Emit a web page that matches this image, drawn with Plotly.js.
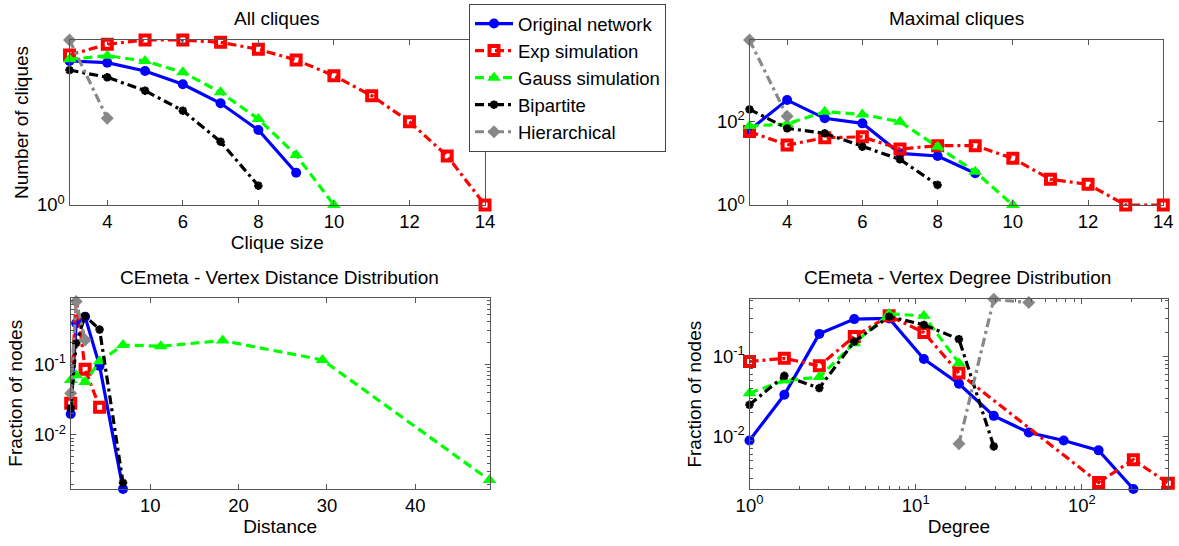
<!DOCTYPE html>
<html><head><meta charset="utf-8">
<script src="https://cdn.plot.ly/plotly-3.0.1.min.js"></script>
<style>html,body{margin:0;padding:0;background:#fff}#chart{width:1179px;height:546px}</style>
</head><body><div id="chart"></div>
<script>
// ---------- data ----------
const seriesNames = ['Original network', 'Exp simulation', 'Gauss simulation', 'Bipartite', 'Hierarchical'];

// All cliques (x = clique size)
const allX_original = [3, 4, 5, 6, 7, 8, 9];
const allY_original = [23100, 20500, 11500, 4540, 1210, 187, 9.5];
const allX_exp = [3, 4, 5, 6, 7, 8, 9, 10, 11, 12, 13, 14];
const allY_exp = [35100, 74100, 100000, 100000, 85100, 52200, 24800, 8280, 2050, 334, 30.5, 1];
const allX_gauss = [3, 4, 5, 6, 7, 8, 9, 10];
const allY_gauss = [26000, 33400, 23100, 10500, 2600, 404, 32.7, 1];
const allX_bip = [3, 4, 5, 6, 7, 8];
const allY_bip = [12300, 7400, 2910, 721, 82.8, 3.85];
const allX_hier = [3, 4];
const allY_hier = [100000, 424];

// Maximal cliques
const maxX_original = [3, 4, 5, 6, 7, 8, 9];
const maxY_original = [61, 316, 116, 88, 17, 14.7, 5.7];
const maxX_exp = [3, 4, 5, 6, 7, 8, 9, 10, 11, 12, 13, 14];
const maxY_exp = [56, 26.8, 40, 42, 21.5, 25.9, 25.9, 12.9, 4.1, 3.1, 1, 1];
const maxX_gauss = [3, 4, 5, 6, 7, 8, 9, 10];
const maxY_gauss = [76, 85, 167, 144, 96, 24.5, 6.2, 1];
const maxX_bip = [3, 4, 5, 6, 7, 8];
const maxY_bip = [190, 67, 51, 24.5, 12.2, 3];
const maxX_hier = [3, 4];
const maxY_hier = [8500, 130];

// Vertex distance distribution
const distX_original = [1, 1.62, 2.63, 4.27, 6.92];
const distY_original = [0.0198, 0.38, 0.47, 0.095, 0.00172];
const distX_exp = [1, 1.62, 2.63, 4.27];
const distY_exp = [0.028, 0.88, 0.085, 0.0247];
const distX_gauss = [1, 1.62, 2.63, 4.27, 6.92, 11.2, 18.2, 29.5, 48.4];
const distY_gauss = [0.06, 0.07, 0.056, 0.11, 0.187, 0.18, 0.216, 0.115, 0.0023];
const distX_bip = [1, 1.62, 2.63, 4.27, 6.92];
const distY_bip = [0.024, 0.2, 0.48, 0.31, 0.0021];
const distX_hier = [1, 1.62, 2.63];
const distY_hier = [0.039, 0.77, 0.22];

// Vertex degree distribution
const degX_original = [1, 1.62, 2.63, 4.27, 6.92, 11.2, 18.2, 29.5, 47.9, 77.7, 126, 204];
const degY_original = [0.0089, 0.0332, 0.192, 0.294, 0.30, 0.093, 0.0456, 0.0181, 0.0112, 0.0089, 0.0067, 0.0022];
const degX_exp = [1, 1.62, 2.63, 4.27, 6.92, 11.2, 18.2, 126, 204, 331];
const degY_exp = [0.0866, 0.095, 0.0765, 0.178, 0.323, 0.2, 0.062, 0.00266, 0.00511, 0.0026];
const degX_gauss = [1, 1.62, 2.63, 4.27, 6.92, 11.2, 18.2];
const degY_gauss = [0.0348, 0.050, 0.0553, 0.147, 0.342, 0.323, 0.0826];
const degX_bip = [1, 1.62, 2.63, 4.27, 6.92, 11.2, 18.2, 29.5];
const degY_bip = [0.0249, 0.0574, 0.0403, 0.154, 0.316, 0.249, 0.165, 0.0075];
const degX_hier = [18.2, 29.5, 47.9];
const degY_hier = [0.0081, 0.52, 0.473];

const titles = ['All cliques', 'Maximal cliques', 'CEmeta - Vertex Distance Distribution', 'CEmeta - Vertex Degree Distribution'];

// ---------- styles ----------
const FONT = 'Liberation Sans, Arial, Helvetica, sans-serif';
const TF = 19; // text size
const styles = [
  {color: '#0000ff', dash: 'solid', symbol: 'circle', size: 10, mlw: 0},
  {color: '#ff0000', dash: '9px,4px,3px,4px', symbol: 'square-open', size: 9, mlw: 4},
  {color: '#00ff00', dash: '9px,5px', symbol: 'triangle-up', size: 12, mlw: 0},
  {color: '#000000', dash: '9px,4px,3px,4px', symbol: 'asterisk-open', size: 7, mlw: 2.5},
  {color: '#888888', dash: '9px,4px,3px,4px', symbol: 'diamond', size: 10, mlw: 0}
];

const panels = [
  {xs: [allX_original, allX_exp, allX_gauss, allX_bip, allX_hier], ys: [allY_original, allY_exp, allY_gauss, allY_bip, allY_hier]},
  {xs: [maxX_original, maxX_exp, maxX_gauss, maxX_bip, maxX_hier], ys: [maxY_original, maxY_exp, maxY_gauss, maxY_bip, maxY_hier]},
  {xs: [distX_original, distX_exp, distX_gauss, distX_bip, distX_hier], ys: [distY_original, distY_exp, distY_gauss, distY_bip, distY_hier]},
  {xs: [degX_original, degX_exp, degX_gauss, degX_bip, degX_hier], ys: [degY_original, degY_exp, degY_gauss, degY_bip, degY_hier]}
];

const traces = [];
panels.forEach((p, pi) => {
  const ax = pi === 0 ? '' : String(pi + 1);
  for (let s = 0; s < 5; s++) {
    const st = styles[s];
    traces.push({
      type: 'scatter', mode: 'lines+markers',
      x: p.xs[s], y: p.ys[s],
      xaxis: 'x' + ax, yaxis: 'y' + ax,
      name: seriesNames[s], legendgroup: seriesNames[s], showlegend: pi === 0,
      line: {color: st.color, width: 3.2, dash: st.dash},
      marker: {symbol: st.symbol, size: st.size, color: st.color, line: {color: st.color, width: st.mlw}},
      cliponaxis: false
    });
  }
});

const W = 1179, H = 546;
const px = v => v / W;
const py = v => 1 - v / H;
const tfont = {family: FONT, size: TF, color: '#000'};

function baseAxis(extra) {
  return Object.assign({
    showline: true, linecolor: '#555', linewidth: 1, mirror: 'ticks',
    ticks: 'inside', ticklen: 5, tickcolor: '#555', tickwidth: 1,
    showgrid: false, zeroline: false,
    tickfont: {family: FONT, size: 18.5, color: '#000'}
  }, extra);
}

const minorDist = [0.002,0.003,0.004,0.005,0.006,0.007,0.008,0.009,0.02,0.03,0.04,0.05,0.06,0.07,0.08,0.09,0.2,0.3,0.4,0.5,0.6,0.7,0.8];
const minorDegX = [2,3,4,5,6,7,8,9,20,30,40,50,60,70,80,90,200,300];

const layout = {
  width: W, height: H,
  margin: {l: 0, r: 0, t: 0, b: 0},
  paper_bgcolor: '#fff', plot_bgcolor: '#fff',
  font: {family: FONT, size: TF, color: '#000'},
  showlegend: true,
  legend: {
    x: px(469), y: py(4), xanchor: 'left', yanchor: 'top',
    bgcolor: '#fff', bordercolor: '#444', borderwidth: 1,
    font: {family: FONT, size: 18.5, color: '#000'},
    itemwidth: 38, tracegroupgap: 0
  },
  xaxis: baseAxis({domain: [px(69.5), px(485)], range: [3, 14], tickvals: [4, 6, 8, 10, 12, 14],
    title: {text: 'Clique size', font: tfont, standoff: 3}}),
  yaxis: baseAxis({domain: [py(205), py(40)], type: 'log', range: [0, 5], tickvals: [1], ticktext: ['10<sup>0</sup>'],
    title: {text: 'Number of cliques', font: tfont, standoff: 3}}),
  xaxis2: baseAxis({domain: [px(749.5), px(1163.3)], range: [3, 14], tickvals: [4, 6, 8, 10, 12, 14], anchor: 'y2'}),
  yaxis2: baseAxis({domain: [py(205), py(40)], type: 'log', range: [0, 3.93], tickvals: [1, 100], ticktext: ['10<sup>0</sup>', '10<sup>2</sup>'], anchor: 'x2'}),
  xaxis3: baseAxis({domain: [px(70.7), px(489.5)], range: [1, 48.4], tickvals: [10, 20, 30, 40], anchor: 'y3',
    title: {text: 'Distance', font: tfont, standoff: 3}}),
  yaxis3: baseAxis({domain: [py(489), py(297.5)], type: 'log', range: [Math.log10(0.00172), Math.log10(0.88)],
    tickvals: [0.01, 0.1], ticktext: ['10<sup>-2</sup>', '10<sup>-1</sup>'], anchor: 'x3',
    minor: {tickvals: minorDist, ticks: 'inside', ticklen: 3, tickcolor: '#555'},
    title: {text: 'Fraction of nodes', font: tfont, standoff: 6}}),
  xaxis4: baseAxis({domain: [px(749.5), px(1168.3)], type: 'log', range: [0, Math.log10(331)],
    tickvals: [1, 10, 100], ticktext: ['10<sup>0</sup>', '10<sup>1</sup>', '10<sup>2</sup>'], anchor: 'y4',
    minor: {tickvals: minorDegX, ticks: 'inside', ticklen: 3, tickcolor: '#555'},
    title: {text: 'Degree', font: tfont, standoff: 3}}),
  yaxis4: baseAxis({domain: [py(489), py(299.3)], type: 'log', range: [Math.log10(0.0022), Math.log10(0.52)],
    tickvals: [0.01, 0.1], ticktext: ['10<sup>-2</sup>', '10<sup>-1</sup>'], anchor: 'x4',
    minor: {tickvals: minorDist, ticks: 'inside', ticklen: 3, tickcolor: '#555'},
    title: {text: 'Fraction of nodes', font: tfont, standoff: 6}}),
  annotations: [
    {text: titles[0], x: px(277), y: py(19), xref: 'paper', yref: 'paper', showarrow: false, xanchor: 'center', yanchor: 'middle', font: tfont},
    {text: titles[1], x: px(956), y: py(19), xref: 'paper', yref: 'paper', showarrow: false, xanchor: 'center', yanchor: 'middle', font: tfont},
    {text: titles[2], x: px(279), y: py(277), xref: 'paper', yref: 'paper', showarrow: false, xanchor: 'center', yanchor: 'middle', font: tfont},
    {text: titles[3], x: px(957), y: py(277), xref: 'paper', yref: 'paper', showarrow: false, xanchor: 'center', yanchor: 'middle', font: tfont}
  ]
};

Plotly.newPlot('chart', traces, layout, {displayModeBar: false, staticPlot: true});
</script>
</body></html>
